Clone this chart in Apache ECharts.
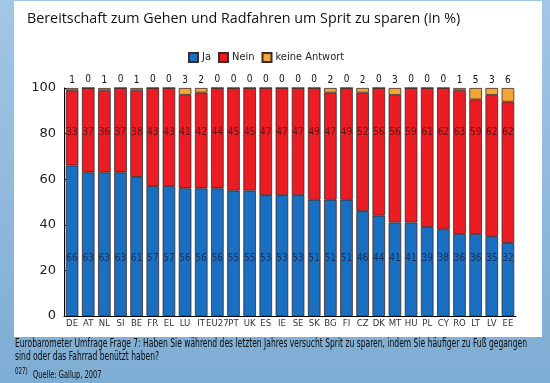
<!DOCTYPE html>
<html>
<head>
<meta charset="utf-8">
<script src="https://cdn.jsdelivr.net/npm/echarts@6/dist/echarts.min.js"></script>
<style>html,body{margin:0;padding:0;}#c{width:550px;height:383px;}</style>
</head>
<body>
<div id="c"></div>
<script>
var categories = ['DE','AT','NL','SI','BE','FR','EL','LU','IT','EU27','PT','UK','ES','IE','SE','SK','BG','FI','CZ','DK','MT','HU','PL','CY','RO','LT','LV','EE'];
var ja =    [66,63,63,63,61,57,57,56,56,56,55,55,53,53,53,51,51,51,46,44,41,41,39,38,36,36,35,32];
var nein =  [33,37,36,37,38,43,43,41,42,44,45,45,47,47,47,49,47,49,52,56,56,59,61,62,63,59,62,62];
var keine = [1,0,1,0,1,0,0,3,2,0,0,0,0,0,0,0,2,0,2,0,3,0,0,0,1,5,3,6];
var yTicks = [0,20,40,60,80,100];
var neinLabelLevel = 80.5;
var footer1 = 'Eurobarometer Umfrage Frage 7: Haben Sie während des letzten Jahres versucht Sprit zu sparen, indem Sie häufiger zu Fuß gegangen';
var footer2 = 'sind oder das Fahrrad benützt haben?';
var footnoteMark = '027)';
var source = 'Quelle: Gallup, 2007';

var narrow = "'Liberation Sans Narrow','DejaVu Sans Condensed',sans-serif";
var ctx = document.createElement('canvas').getContext('2d');
function fitScale(text, font, target){ ctx.font = font; return target / ctx.measureText(text).width; }
var f1 = '12.5px ' + narrow;
var sx = fitScale(footer1, f1, 512);

function narrowText(x, y, text, font){
  return {type:'text', x:x, y:y, scaleX:sx, style:{text:text, font:font, fill:'#0a0a0a', textVerticalAlign:'middle'}};
}

var chart = echarts.init(document.getElementById('c'));
var barBorder = {borderColor:'#3a2a2a', borderWidth:0.8};
chart.setOption({
  animation:false,
  backgroundColor:{type:'linear',x:0,y:0,x2:0,y2:1,colorStops:[{offset:0,color:'#a2c6e6'},{offset:1,color:'#7eadd3'}]},
  graphic:[
    {type:'rect', z:-10, shape:{x:14,y:1,width:528,height:336}, style:{fill:'#ffffff'}},
    narrowText(15, 344, footer1, f1),
    narrowText(15, 357, footer2, f1),
    narrowText(15, 372, footnoteMark, '9px ' + narrow),
    narrowText(33, 375, source, '11px ' + narrow)
  ],
  title:{text:'Bereitschaft zum Gehen und Radfahren um Sprit zu sparen (in %)', left:22, top:7,
    textStyle:{fontFamily:"'Open Sans',sans-serif", fontSize:14.3, fontWeight:'normal', color:'#111'}},
  legend:{data:['Ja','Nein','keine Antwort'], left:183, top:47, itemWidth:9, itemHeight:9, itemGap:7,
    textStyle:{fontFamily:narrow, fontSize:11, color:'#222', padding:[0,0,0,-1]}, icon:'rect'},
  grid:{left:64, right:34, top:88, bottom:67},
  xAxis:{type:'category', data:categories,
    axisLine:{lineStyle:{color:'#000', width:1}},
    axisTick:{inside:true, length:4, lineStyle:{color:'#000'}},
    axisLabel:{fontFamily:narrow, fontSize:9.5, color:'#333', margin:3, interval:0}},
  yAxis:{type:'value', min:0, max:100, interval:20,
    axisLine:{show:true, lineStyle:{color:'#000', width:1}},
    axisTick:{show:true, inside:true, length:3, lineStyle:{color:'#000'}},
    splitLine:{show:false},
    axisLabel:{fontFamily:"'DejaVu Sans',sans-serif", fontSize:13, color:'#222', margin:8,
      formatter:function(v){return yTicks.indexOf(v)>=0? String(v):'';}}},
  series:[
    {name:'Ja', type:'bar', stack:'t', data:ja, barCategoryGap:'22%',
      itemStyle:Object.assign({color:'#1a6fc0'}, barBorder),
      label:{show:true, position:'insideBottom', distance:53, fontFamily:narrow, fontSize:10, color:'#16325e'}},
    {name:'Nein', type:'bar', stack:'t', data:nein,
      itemStyle:Object.assign({color:'#ec1c24'}, barBorder)},
    {name:'keine Antwort', type:'bar', stack:'t', data:keine,
      itemStyle:Object.assign({color:'#f4a634'}, barBorder),
      label:{show:true, position:'top', distance:3, fontFamily:narrow, fontSize:10, color:'#111',
        formatter:function(p){return String(keine[p.dataIndex]);}}},
    {name:'NeinLabel', type:'scatter', symbolSize:0, silent:true,
      data:categories.map(function(c,i){return [c, neinLabelLevel, nein[i]];}),
      label:{show:true, position:'inside', fontFamily:narrow, fontSize:10, color:'#4a0c0c',
        formatter:function(p){return String(p.value[2]);}}, z:5}
  ]
});
</script>
</body>
</html>
